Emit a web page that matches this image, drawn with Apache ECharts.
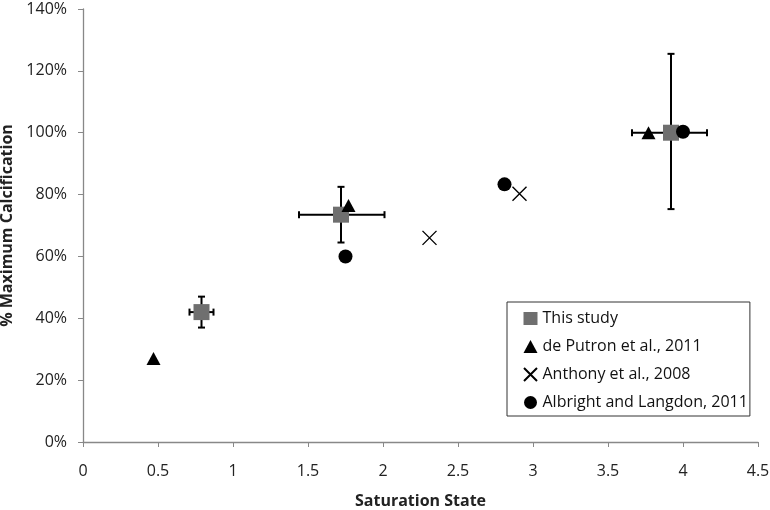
<!DOCTYPE html>
<html><head><meta charset="utf-8">
<script src="https://cdn.jsdelivr.net/npm/echarts@6/dist/echarts.min.js"></script>
<style>html,body{margin:0;padding:0;background:#fff}#c{width:770px;height:510px}</style>
</head><body><div id="c"></div>
<script>
// This study: x, y (%), x error low/high, y error low/high
const studyX = [0.79, 1.72, 3.92];
const studyY = [42, 73.5, 100];
const studyXLow = [0.71, 1.44, 3.66];
const studyXHigh = [0.87, 2.01, 4.16];
const studyYLow = [37, 64.5, 75.3];
const studyYHigh = [47, 82.5, 125.5];
const putronX = [0.47, 1.77, 3.77];
const putronY = [27, 76.5, 100];
const anthonyX = [2.31, 2.91];
const anthonyY = [66, 80.3];
const albrightX = [1.75, 2.81, 4.0];
const albrightY = [60, 83.3, 100.3];
const legendNames = ['This study', 'de Putron et al., 2011', 'Anthony et al., 2008', 'Albright and Langdon, 2011'];
const xTicks = [0, 4.5, 0.5];
const yTicks = [0, 140, 20];

const pairs = (xs, ys) => xs.map((x, i) => [x, ys[i]]);
const errData = studyX.map((x, i) => [x, studyY[i], studyXLow[i], studyXHigh[i], studyYLow[i], studyYHigh[i]]);
const FONT = '"Open Sans", sans-serif';
const chart = echarts.init(document.getElementById('c'));
const cap = 3.5;
chart.setOption({
  backgroundColor: '#fff',
  animation: false,
  textStyle: { fontFamily: FONT },
  grid: { left: 83, right: 12, top: 9, bottom: 68, containLabel: false, outerBoundsMode: 'none' },
  xAxis: {
    type: 'value', min: xTicks[0], max: xTicks[1], interval: xTicks[2],
    name: 'Saturation State', nameLocation: 'middle', nameGap: 51,
    nameTextStyle: { fontFamily: FONT, fontWeight: 'bold', fontSize: 16, color: '#222' },
    axisLine: { show: true, lineStyle: { color: '#888', width: 1.3 } },
    axisTick: { show: true, inside: false, length: 5, lineStyle: { color: '#888' } },
    splitLine: { show: false },
    axisLabel: { fontFamily: FONT, fontSize: 16, color: '#222', margin: 21 }
  },
  yAxis: {
    type: 'value', min: yTicks[0], max: yTicks[1], interval: yTicks[2],
    name: '% Maximum Calcification', nameLocation: 'middle', nameGap: 68, nameRotate: 90,
    nameTextStyle: { fontFamily: FONT, fontWeight: 'bold', fontSize: 16, color: '#222' },
    axisLine: { show: true, lineStyle: { color: '#888', width: 1.3 } },
    axisTick: { show: true, inside: false, length: 5, lineStyle: { color: '#888' } },
    splitLine: { show: false },
    axisLabel: { fontFamily: FONT, fontSize: 16, color: '#222', margin: 16, formatter: '{value}%' }
  },
  legend: {
    orient: 'vertical', left: 507, top: 302,
    data: legendNames,
    borderColor: '#333', borderWidth: 1, borderRadius: 0,
    padding: [8, 2, 5, 16],
    itemWidth: 14, itemHeight: 13, itemGap: 11,
    textStyle: { fontFamily: FONT, fontSize: 16, lineHeight: 17, color: '#111' }
  },
  series: [
    {
      type: 'custom', name: 'err', silent: true, z: 1,
      data: errData,
      encode: { x: 0, y: 1 },
      renderItem: function (params, api) {
        const x = api.value(0), y = api.value(1);
        const pL = api.coord([api.value(2), y]), pR = api.coord([api.value(3), y]);
        const pB = api.coord([x, api.value(4)]), pT = api.coord([x, api.value(5)]);
        const st = { stroke: '#000', lineWidth: 2 };
        const ln = (x1, y1, x2, y2) => ({ type: 'line', shape: { x1, y1, x2, y2 }, style: st });
        return { type: 'group', children: [
          ln(pL[0], pL[1], pR[0], pR[1]),
          ln(pL[0], pL[1] - cap, pL[0], pL[1] + cap),
          ln(pR[0], pR[1] - cap, pR[0], pR[1] + cap),
          ln(pB[0], pB[1], pT[0], pT[1]),
          ln(pB[0] - cap, pB[1], pB[0] + cap, pB[1]),
          ln(pT[0] - cap, pT[1], pT[0] + cap, pT[1])
        ] };
      }
    },
    {
      type: 'scatter', name: legendNames[0], z: 2,
      data: pairs(studyX, studyY), symbol: 'rect', symbolSize: 16,
      itemStyle: { color: '#6f6f6f', opacity: 1 }
    },
    {
      type: 'scatter', name: legendNames[1], z: 3,
      data: pairs(putronX, putronY), symbol: 'triangle', symbolSize: [14, 13],
      itemStyle: { color: '#000', opacity: 1 }
    },
    {
      type: 'scatter', name: legendNames[2], z: 4,
      data: pairs(anthonyX, anthonyY), symbol: 'path://M0,0L10,10M10,0L0,10', symbolSize: 14,
      itemStyle: { color: 'transparent', borderColor: '#000', borderWidth: 1.4, opacity: 1 }
    },
    {
      type: 'scatter', name: legendNames[3], z: 5,
      data: pairs(albrightX, albrightY), symbol: 'circle', symbolSize: 14,
      itemStyle: { color: '#000', opacity: 1 }
    }
  ]
});
</script></body></html>
